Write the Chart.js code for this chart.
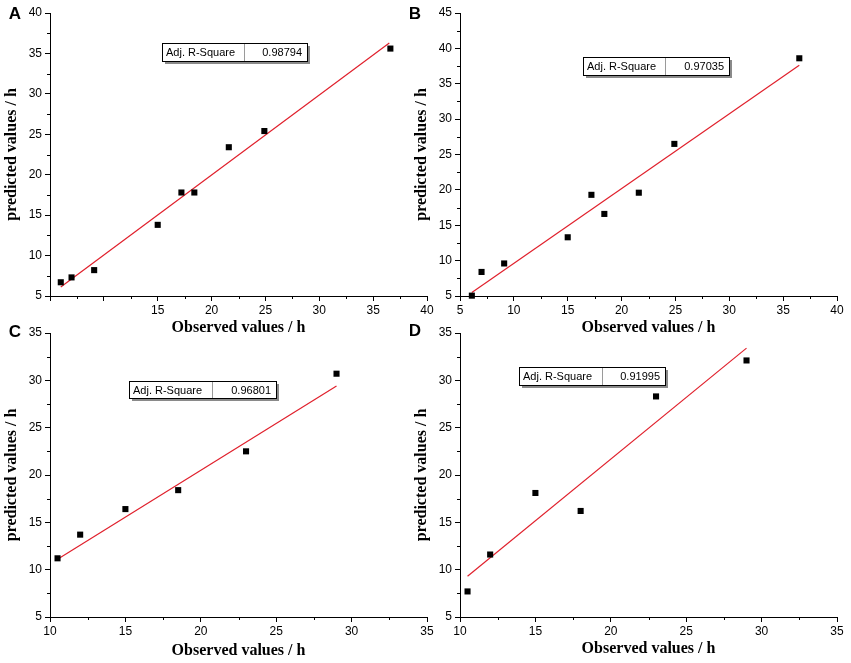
<!DOCTYPE html>
<html>
<head>
<meta charset="utf-8">
<script src="https://cdn.jsdelivr.net/npm/chart.js@4/dist/chart.umd.min.js"></script>
<style>
  html, body { margin: 0; padding: 0; background: #fff; }
  #wrap { position: relative; width: 851px; height: 663px; overflow: hidden; background: #fff; }
  .pane { position: absolute; }
</style>
</head>
<body>
<div id="wrap">
  <div class="pane" style="left:0px;top:0px;width:440px;height:340px;"><canvas id="cA" width="440" height="340"></canvas></div>
  <div class="pane" style="left:410px;top:0px;width:441px;height:340px;"><canvas id="cB" width="441" height="340"></canvas></div>
  <div class="pane" style="left:0px;top:320px;width:440px;height:343px;"><canvas id="cC" width="440" height="343"></canvas></div>
  <div class="pane" style="left:410px;top:320px;width:441px;height:343px;"><canvas id="cD" width="441" height="343"></canvas></div>
</div>
<script>
// ---------- DATA ----------
const panelLetters = ["A", "B", "C", "D"];
const xTitle = "Observed values / h";
const yTitle = "predicted values / h";
const r2Label = "Adj. R-Square";
const r2Values = ["0.98794", "0.97035", "0.96801", "0.91995"];

const obsA  = [6.0, 7.0, 9.1, 15.0, 17.2, 18.4, 21.6, 24.9, 36.6];
const predA = [6.7, 7.3, 8.2, 13.8, 17.8, 17.8, 23.4, 25.4, 35.6];
const fitXA = [6.0, 36.5];
const fitYA = [6.1, 36.3];

const obsB  = [6.1, 7.0, 9.1, 15.0, 17.2, 18.4, 21.6, 24.9, 36.5];
const predB = [5.05, 8.4, 9.6, 13.3, 19.3, 16.6, 19.6, 26.5, 38.6];
const fitXB = [6.1, 36.5];
const fitYB = [5.5, 37.6];

const obsC  = [10.5, 12.0, 15.0, 18.5, 23.0, 29.0];
const predC = [11.2, 13.7, 16.4, 18.4, 22.5, 30.7];
const fitXC = [10.5, 29.0];
const fitYC = [11.1, 29.4];

const obsD  = [10.5, 12.0, 15.0, 18.0, 23.0, 29.0];
const predD = [7.7, 11.6, 18.1, 16.2, 28.3, 32.1];
const fitXD = [10.5, 29.0];
const fitYD = [9.3, 33.4];

// axis ranges / ticks
const xRangeA = [5, 40], yRangeA = [5, 40];
const xRangeB = [5, 40], yRangeB = [5, 45];
const xRangeC = [10, 35], yRangeC = [5, 35];
const xRangeD = [10, 35], yRangeD = [5, 35];
const hiddenXLabelsA = [5, 10];

// ---------- helpers ----------
const pairs = (xs, ys) => xs.map((x, i) => ({ x: x, y: ys[i] }));

const decoPlugin = {
  id: 'panelDeco',
  afterDraw(chart, args, opts) {
    const ctx = chart.ctx;
    ctx.save();
    // minor ticks
    const minorLen = 3;
    ctx.strokeStyle = '#000';
    ctx.lineWidth = 1;
    const xs = chart.scales.x, ys = chart.scales.y;
    for (let v = xs.min + 2.5; v < xs.max; v += 5) {
      const px = Math.round(xs.getPixelForValue(v)) + 0.5;
      ctx.beginPath(); ctx.moveTo(px, xs.top); ctx.lineTo(px, xs.top + minorLen); ctx.stroke();
    }
    for (let v = ys.min + 2.5; v < ys.max; v += 5) {
      const py = Math.round(ys.getPixelForValue(v)) + 0.5;
      ctx.beginPath(); ctx.moveTo(ys.right, py); ctx.lineTo(ys.right - minorLen, py); ctx.stroke();
    }
    // panel letter
    ctx.fillStyle = '#000';
    ctx.font = 'bold 17px "Liberation Sans", Arial, sans-serif';
    ctx.textAlign = 'center';
    ctx.textBaseline = 'middle';
    ctx.fillText(opts.letter, opts.letterX, opts.letterY);
    // R-square box
    const b = opts.box;
    ctx.fillStyle = '#8a8a8a';
    ctx.fillRect(b.x + 3, b.y + 3, b.w, b.h);
    ctx.fillStyle = '#fff';
    ctx.fillRect(b.x, b.y, b.w, b.h);
    ctx.strokeStyle = '#000';
    ctx.lineWidth = 1;
    ctx.strokeRect(b.x + 0.5, b.y + 0.5, b.w, b.h);
    ctx.strokeStyle = '#9a9a9a';
    ctx.beginPath(); ctx.moveTo(b.x + b.div + 0.5, b.y + 1); ctx.lineTo(b.x + b.div + 0.5, b.y + b.h); ctx.stroke();
    ctx.fillStyle = '#000';
    ctx.font = '11px "Liberation Sans", Arial, sans-serif';
    ctx.textBaseline = 'middle';
    ctx.textAlign = 'left';
    ctx.fillText(opts.label, b.x + 4, b.y + b.h / 2 + 1);
    ctx.textAlign = 'right';
    ctx.fillText(opts.value, b.x + b.w - 5, b.y + b.h / 2 + 1);
    ctx.restore();
  }
};

function makePanel(canvasId, idx, obs, pred, fitX, fitY, xr, yr, hiddenX, deco, pad, xTitlePad) {
  const canvas = document.getElementById(canvasId);
  const H = canvas.height;
  const chartBottom = deco.chartBottom;
  return new Chart(canvas, {
    type: 'scatter',
    data: {
      datasets: [
        {
          label: 'Fit',
          data: pairs(fitX, fitY),
          showLine: true,
          borderColor: '#e0202c',
          borderWidth: 1.2,
          pointRadius: 0,
          fill: false,
          clip: false,
          order: 2
        },
        {
          label: 'Data',
          data: pairs(obs, pred),
          pointStyle: 'rect',
          pointRadius: 4.3,
          pointHoverRadius: 4.3,
          backgroundColor: '#000',
          borderWidth: 0,
          clip: false,
          order: 1
        }
      ]
    },
    plugins: [decoPlugin],
    options: {
      responsive: false,
      animation: false,
      devicePixelRatio: 1,
      events: [],
      layout: { autoPadding: false, padding: pad },
      plugins: {
        legend: { display: false },
        tooltip: { enabled: false },
        panelDeco: {
          letter: panelLetters[idx],
          letterX: deco.letterX, letterY: deco.letterY,
          box: deco.box,
          label: r2Label,
          value: r2Values[idx]
        }
      },
      scales: {
        x: {
          type: 'linear',
          position: 'bottom',
          min: xr[0], max: xr[1],
          afterFit: (s) => { s.height = H - chartBottom - pad.bottom; },
          ticks: {
            stepSize: 5,
            color: '#000',
            padding: 2,
            maxRotation: 0,
            font: { family: '"Liberation Sans", Arial, sans-serif', size: 12 },
            callback: (v) => (hiddenX.indexOf(v) >= 0 ? '' : String(v))
          },
          grid: { drawOnChartArea: false, drawTicks: true, tickLength: 5, tickColor: '#000', tickWidth: 1 },
          border: { display: true, color: '#000', width: 1 },
          title: {
            display: true,
            text: xTitle,
            color: '#000',
            padding: { top: 0, bottom: xTitlePad },
            font: { family: '"Liberation Serif", "Times New Roman", serif', size: 16, weight: 'bold', lineHeight: 1.2 }
          }
        },
        y: {
          type: 'linear',
          position: 'left',
          min: yr[0], max: yr[1],
          afterFit: (s) => { s.width = 50; },
          ticks: {
            stepSize: 5,
            color: '#000',
            padding: 3,
            font: { family: '"Liberation Sans", Arial, sans-serif', size: 12 }
          },
          grid: { drawOnChartArea: false, drawTicks: true, tickLength: 5, tickColor: '#000', tickWidth: 1 },
          border: { display: true, color: '#000', width: 1 },
          title: {
            display: true,
            text: yTitle,
            color: '#000',
            padding: { top: 2, bottom: 0 },
            font: { family: '"Liberation Serif", "Times New Roman", serif', size: 16, weight: 'bold', lineHeight: 1.2 }
          }
        }
      }
    }
  });
}

makePanel('cA', 0, obsA, predA, fitXA, fitYA, xRangeA, yRangeA, hiddenXLabelsA,
  { letterX: 15, letterY: 14, chartBottom: 296, box: { x: 162, y: 43, w: 145, h: 18, div: 82 } },
  { left: 0, top: 13, right: 13, bottom: 0 }, 3);
makePanel('cB', 1, obsB, predB, fitXB, fitYB, xRangeB, yRangeB, [],
  { letterX: 5, letterY: 14, chartBottom: 296, box: { x: 173, y: 57, w: 146, h: 18, div: 82 } },
  { left: 0, top: 13, right: 14, bottom: 0 }, 3);
makePanel('cC', 2, obsC, predC, fitXC, fitYC, xRangeC, yRangeC, [],
  { letterX: 15, letterY: 12, chartBottom: 297, box: { x: 129, y: 61, w: 147, h: 17, div: 83 } },
  { left: 0, top: 13, right: 13, bottom: 0 }, 3);
makePanel('cD', 3, obsD, predD, fitXD, fitYD, xRangeD, yRangeD, [],
  { letterX: 5, letterY: 11, chartBottom: 297, box: { x: 109, y: 47, w: 146, h: 18, div: 83 } },
  { left: 0, top: 13, right: 14, bottom: 0 }, 5);
</script>
</body>
</html>
